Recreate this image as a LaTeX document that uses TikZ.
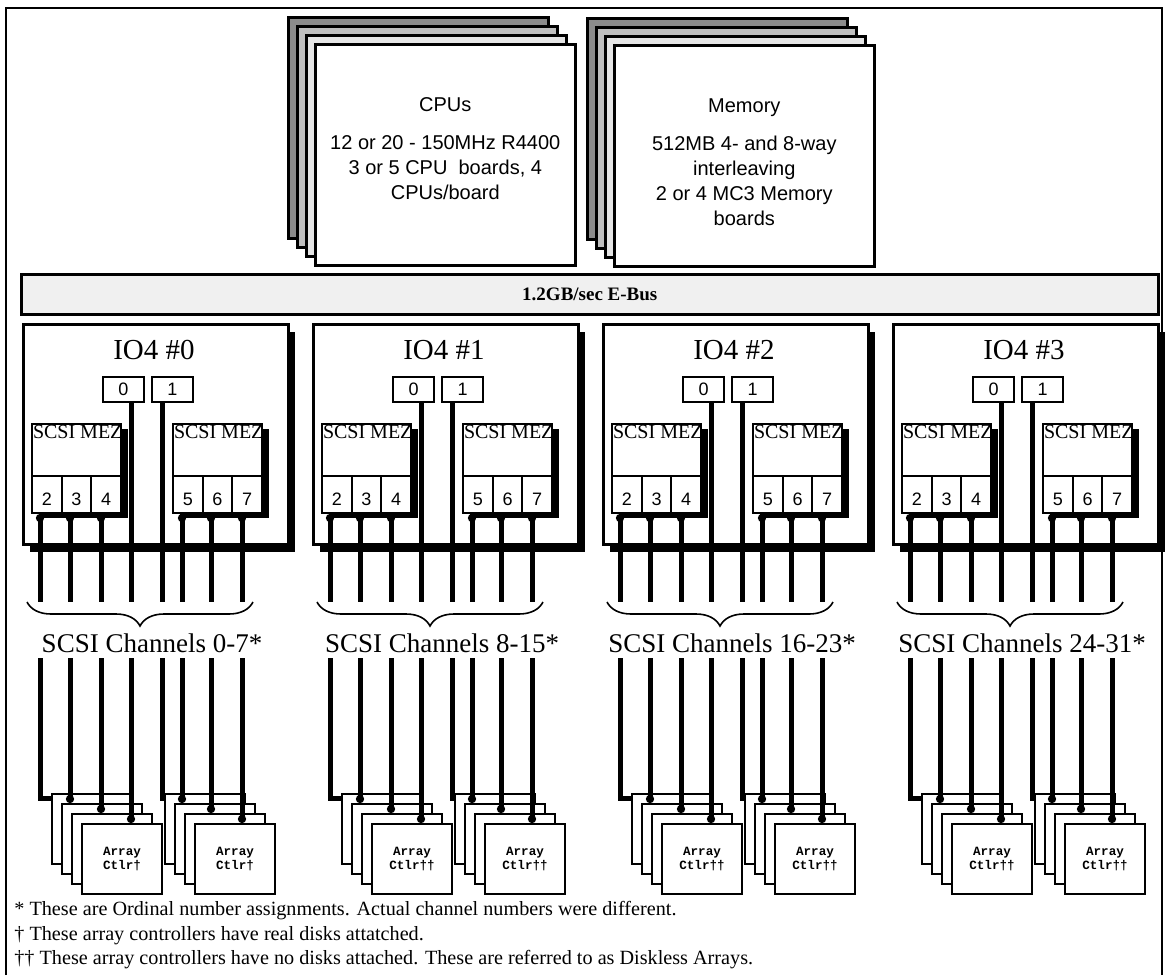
\documentclass[tikz,border=0pt]{standalone}
\usepackage{fontspec}
\setmainfont{Liberation Serif}
\setsansfont{Liberation Sans}
\setmonofont{Liberation Mono}
\usepackage{tikz}
\usetikzlibrary{arrows.meta, positioning, calc, shadows, decorations.pathreplacing}

\begin{document}
\begin{tikzpicture}[
  x=0.5pt, y=-0.5pt,
  sheet/.style={draw, line width=1.3pt, anchor=north west, inner sep=0pt,
    minimum width=130pt, minimum height=110.5pt},
  boardtxt/.style={align=center, inner sep=0pt, font=\sffamily\fontsize{10}{12.5}\selectfont},
  bus/.style={draw, line width=1.3pt, fill=black!6, anchor=north west,
    minimum width=568.5pt, minimum height=20pt, font=\bfseries\fontsize{9.5}{11}\selectfont},
  ioboard/.style={draw, line width=1.4pt, fill=white, anchor=north west,
    minimum width=132.5pt, minimum height=110pt,
    drop shadow={shadow xshift=3.5pt, shadow yshift=-4pt, fill=black, opacity=1}},
  iotitle/.style={inner sep=0pt, font=\fontsize{14.5}{17}\selectfont},
  port/.style={draw, line width=1pt, fill=white, anchor=north west, inner sep=0pt,
    minimum width=20.5pt, minimum height=12.5pt, font=\sffamily\fontsize{9}{10}\selectfont},
  mez/.style={draw, line width=1pt, fill=white, anchor=north west,
    minimum width=44.5pt, minimum height=44.5pt,
    drop shadow={shadow xshift=3.5pt, shadow yshift=-2.5pt, fill=black, opacity=1}},
  mezlbl/.style={anchor=north west, inner sep=0.8pt, font=\fontsize{10}{11}\selectfont},
  cell/.style={draw, line width=1pt, anchor=north west, inner sep=0pt,
    minimum width=14.83pt, minimum height=18.5pt, text height=11pt, text depth=0pt,
    font=\sffamily\fontsize{9}{10}\selectfont},
  chan/.style={line width=2.5pt},
  dot start/.style={{Circle[length=4pt]}-},
  dot end/.style={-{Circle[length=4pt]}},
  chbrace/.style={decorate, decoration={brace, mirror, amplitude=12pt}, line width=0.8pt},
  chlbl/.style={inner sep=0pt, font=\fontsize{13.5}{16}\selectfont},
  card/.style={draw, line width=1pt, fill=white, anchor=north west, align=center,
    minimum width=40pt, minimum height=35pt,
    font=\ttfamily\bfseries\fontsize{6.3}{7}\selectfont},
  note/.style={anchor=west, inner sep=0pt, font=\fontsize{10.1}{11}\selectfont},
]
\useasboundingbox (0,0) rectangle (1166,975);

% outer frame
\draw[line width=1pt] (6,975) -- (6,8) -- (1162,8) -- (1162,975);

% CPU and memory board stacks
\foreach \k/\shade in {0/45,1/25,2/10,3/0}{
  \node[sheet, fill=black!\shade] (cpu\k) at ({287+9*\k},{16+9*\k}) {};
  \node[sheet, fill=black!\shade] (mem\k) at ({586+9*\k},{17+9*\k}) {};
}
\node[boardtxt, below=27pt of cpu3.north] (cputxt)
  {CPUs\\[6.5pt]12 or 20 - 150MHz R4400\\3 or 5 CPU~ boards, 4\\CPUs/board};
\node[boardtxt, below=27pt of mem3.north] (memtxt)
  {Memory\\[6.5pt]512MB 4- and 8-way\\interleaving\\2 or 4 MC3 Memory\\boards};

\node[bus] (ebus) at (20,273) {1.2GB/sec E-Bus};

% IO4 boards, channels and array controllers
\foreach \b/\lo/\hi/\dg in {0/0/7/†, 1/8/15/††, 2/16/23/††, 3/24/31/††}{
  \pgfmathsetmacro{\bx}{22+290*\b}
  \node[ioboard] (io\b) at (\bx,323) {};
  \node[iotitle] (t\b) at ({\bx+132},350) {IO4 \#\b};
  \node[port] (pa\b) at ({\bx+80},376) {0};
  \node[port] (pb\b) at ({\bx+129},376) {1};
  \node[mez] (ma\b) at ({\bx+9},423) {};
  \node[mez] (mb\b) at ({\bx+150},423) {};
  \node[mezlbl] (la\b) at (ma\b.north west) {SCSI MEZ};
  \node[mezlbl] (lb\b) at (mb\b.north west) {SCSI MEZ};
  \foreach \c/\n in {0/2,1/3,2/4}
    \node[cell] (c\b\n) at ({\bx+9+29.67*\c},475) {\n};
  \foreach \c/\n in {0/5,1/6,2/7}
    \node[cell] (c\b\n) at ({\bx+150+29.67*\c},475) {\n};

  \foreach \i/\dx in {1/18,2/48,3/79,4/109,5/140,6/160,7/189,8/220}{
    \coordinate (u\b\i) at ({\bx+\dx},602);
    \coordinate (d\b\i) at ({\bx+\dx},658);
  }
  \draw[chan, dot start] (c\b2.south -| u\b1) -- (u\b1);
  \draw[chan, dot start] (c\b3.south -| u\b2) -- (u\b2);
  \draw[chan, dot start] (c\b4.south -| u\b3) -- (u\b3);
  \draw[chan] (pa\b.south -| u\b4) -- (u\b4);
  \draw[chan] (pb\b.south -| u\b5) -- (u\b5);
  \draw[chan, dot start] (c\b5.south -| u\b6) -- (u\b6);
  \draw[chan, dot start] (c\b6.south -| u\b7) -- (u\b7);
  \draw[chan, dot start] (c\b7.south -| u\b8) -- (u\b8);

  \draw[chbrace] ([xshift=-6.5pt]u\b1) -- ([xshift=5.5pt]u\b8);
  \node[chlbl] (sc\b) at ({\bx+130},643) {SCSI Channels \lo-\hi*};

  \foreach \k in {1,2,3}{
    \node[card] (ca\b\k) at ({\bx+19+10*\k},{783+10*\k}) {};
    \node[card] (cb\b\k) at ({\bx+132+10*\k},{783+10*\k}) {};
  }
  \node[card] (ca\b4) at ({\bx+59},823) {Array\\Ctlr\dg};
  \node[card] (cb\b4) at ({\bx+172},823) {Array\\Ctlr\dg};

  \draw[chan] (d\b1) |- ([yshift=-2.5pt]ca\b1.north west);
  \draw[chan, dot end] (d\b2) -- (d\b2 |- ca\b2.north);
  \draw[chan, dot end] (d\b3) -- (d\b3 |- ca\b3.north);
  \draw[chan, dot end] (d\b4) -- (d\b4 |- ca\b4.north);
  \draw[chan] (d\b5) |- ([yshift=-2.5pt]cb\b1.north west);
  \draw[chan, dot end] (d\b6) -- (d\b6 |- cb\b2.north);
  \draw[chan, dot end] (d\b7) -- (d\b7 |- cb\b3.north);
  \draw[chan, dot end] (d\b8) -- (d\b8 |- cb\b4.north);
}

% footnotes
\node[note] (fn1) at (14,911) {* These are Ordinal number assignments. Actual channel numbers were different.};
\node[note] (fn2) at (14,936) {† These array controllers have real disks attatched.};
\node[note] (fn3) at (14,960) {†† These array controllers have no disks attached. These are referred to as Diskless Arrays.};
\end{tikzpicture}
\end{document}
